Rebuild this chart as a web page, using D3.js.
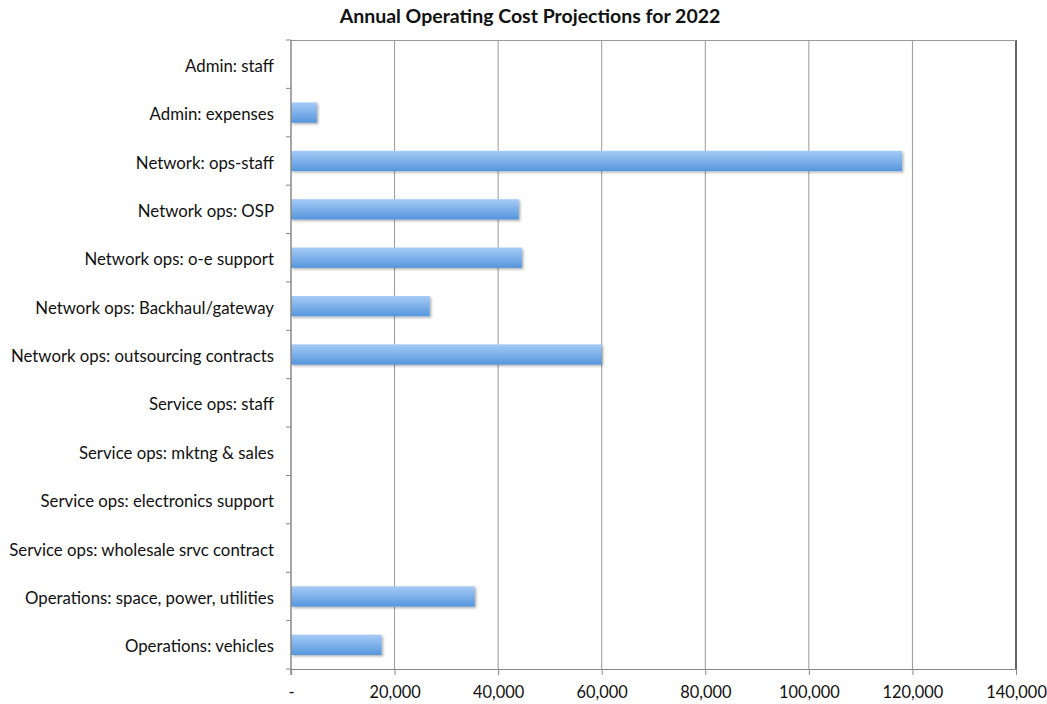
<!DOCTYPE html>
<html>
<head>
<meta charset="utf-8">
<script src="https://cdn.jsdelivr.net/npm/d3@7"></script>
<style>
  body { margin: 0; background: #fff; }
  text { font-family: Lato, "Open Sans", sans-serif; fill: #111; }
</style>
</head>
<body>
<script>
var categories = [
    "Admin: staff",
    "Admin: expenses",
    "Network: ops-staff",
    "Network ops: OSP",
    "Network ops: o-e support",
    "Network ops: Backhaul/gateway",
    "Network ops: outsourcing contracts",
    "Service ops: staff",
    "Service ops: mktng & sales",
    "Service ops: electronics support",
    "Service ops: wholesale srvc contract",
    "Operations: space, power, utilities",
    "Operations: vehicles"
];
var costs = [0, 5000, 118000, 44000, 44600, 26800, 60000, 0, 0, 0, 0, 35500, 17500];
var tickValues = [0, 20000, 40000, 60000, 80000, 100000, 120000, 140000];

var margin = {top: 40, right: 31, bottom: 35, left: 291};
var width = 1047 - margin.left - margin.right,
    height = 704 - margin.top - margin.bottom;

var svg = d3.select("body").append("svg")
    .attr("width", 1047)
    .attr("height", 704);

var defs = svg.append("defs");
var grad = defs.append("linearGradient")
    .attr("id", "barGrad")
    .attr("x1", 0).attr("y1", 0).attr("x2", 0).attr("y2", 1);
grad.append("stop").attr("offset", "0%").attr("stop-color", "#a6cbf7");
grad.append("stop").attr("offset", "100%").attr("stop-color", "#5596dc");

var shadow = defs.append("filter").attr("id", "shadow")
    .attr("x", "-5%").attr("y", "-20%").attr("width", "115%").attr("height", "160%");
shadow.append("feDropShadow")
    .attr("dx", 1.5).attr("dy", 1.5).attr("stdDeviation", 1)
    .attr("flood-color", "#000").attr("flood-opacity", 0.3);

svg.append("text")
    .attr("x", 530)
    .attr("y", 23)
    .attr("text-anchor", "middle")
    .attr("font-size", "19.5px")
    .attr("font-weight", "bold")
    .text("Annual Operating Cost Projections for 2022");

var g = svg.append("g")
    .attr("transform", "translate(" + margin.left + "," + margin.top + ")");

var x = d3.scaleLinear().domain([0, 140000]).range([0, width]);
var y = d3.scaleBand().domain(categories).range([0, height]).paddingInner(0.58).paddingOuter(0.29);

// gridlines
g.selectAll(".grid")
    .data(tickValues.slice(1))
    .enter()
    .append("line")
    .attr("x1", function (d) { return x(d); })
    .attr("x2", function (d) { return x(d); })
    .attr("y1", 0)
    .attr("y2", height)
    .attr("stroke", function (d) { return d === 140000 ? "#333" : "#999"; })
    .attr("stroke-width", function (d) { return d === 140000 ? 1.5 : 1; });

g.append("line")
    .attr("x1", 0).attr("x2", width)
    .attr("y1", 0.5).attr("y2", 0.5)
    .attr("stroke", "#999");

// bars
g.selectAll(".bar")
    .data(costs)
    .enter()
    .append("rect")
    .attr("class", "bar")
    .filter(function (d) { return d > 0; })
    .attr("x", 0)
    .attr("y", function (d, i) { return y(categories[costs.indexOf(d)]); })
    .attr("width", function (d) { return x(d); })
    .attr("height", y.bandwidth())
    .attr("fill", "url(#barGrad)")
    .attr("filter", "url(#shadow)");

// x axis
var xAxis = g.append("g")
    .attr("transform", "translate(0," + height + ")")
    .call(d3.axisBottom(x)
        .tickValues(tickValues)
        .tickSize(6)
        .tickPadding(11)
        .tickFormat(function (d) { return d === 0 ? "-" : d3.format(",")(d); }));
xAxis.select(".domain").attr("stroke", "#888");
xAxis.selectAll(".tick line").attr("stroke", "#888");
xAxis.selectAll("text").attr("font-size", "16.4px").attr("font-family", "Lato, 'Open Sans', sans-serif").attr("fill", "#111");

// y axis: labels centered on bands, ticks on band boundaries
var yAxis = g.append("g");
yAxis.append("line")
    .attr("x1", 0).attr("x2", 0)
    .attr("y1", 0).attr("y2", height + 6)
    .attr("stroke", "#888").attr("stroke-width", 1.5);
yAxis.selectAll(".ytick")
    .data(d3.range(categories.length + 1))
    .enter()
    .append("line")
    .attr("x1", -5).attr("x2", 0)
    .attr("y1", function (d) { return d * height / categories.length; })
    .attr("y2", function (d) { return d * height / categories.length; })
    .attr("stroke", "#888");
yAxis.selectAll(".ylabel")
    .data(categories)
    .enter()
    .append("text")
    .attr("x", -17)
    .attr("y", function (d) { return y(d) + y.bandwidth() / 2; })
    .attr("dy", "0.45em")
    .attr("text-anchor", "end")
    .attr("font-size", "16.8px")
    .text(function (d) { return d; });
</script>
</body>
</html>
